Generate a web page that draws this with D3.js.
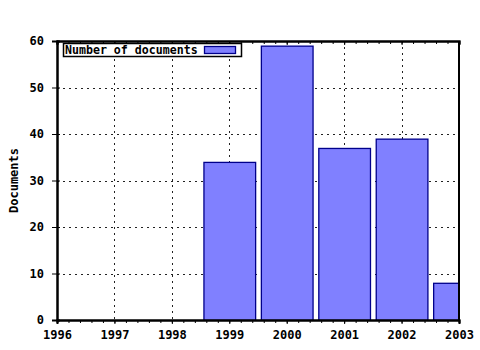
<!DOCTYPE html>
<html>
<head>
<meta charset="utf-8">
<script src="https://cdn.jsdelivr.net/npm/d3@7"></script>
<style>
  body { margin: 0; background: #fff; }
  text { font-family: "DejaVu Sans Mono", monospace; font-weight: bold; }
</style>
</head>
<body>
<script>
// data
var years = [1999, 2000, 2001, 2002, 2003];
var docs = [34, 59, 37, 39, 8];
var xTicks = [1996, 1997, 1998, 1999, 2000, 2001, 2002, 2003];
var yTicks = [0, 10, 20, 30, 40, 50, 60];
var seriesName = "Number of documents";
var yTitle = "Documents";

var w = 480, h = 350;
// plot box (don't call these top/left - window.top is read only)
var pLeft = 57, pRight = 459, pTop = 41, pBottom = 320;

var svg = d3.select("body").append("svg")
  .attr("width", w).attr("height", h);

svg.append("rect").attr("width", w).attr("height", h).style("fill", "#fff");

var x = d3.scaleLinear().domain([1996, 2003]).range([pLeft, pRight]);
var y = d3.scaleLinear().domain([0, 60]).range([pBottom, pTop]);

svg.append("clipPath").attr("id", "plot")
  .append("rect").attr("x", pLeft).attr("y", pTop)
  .attr("width", pRight - pLeft).attr("height", pBottom - pTop);

// grid - dotted
var grid = svg.append("g")
  .style("stroke", "#222").style("stroke-width", 1)
  .style("stroke-dasharray", "2,4").attr("shape-rendering", "crispEdges");
grid.selectAll(".gx").data(xTicks.slice(1, -1)).enter().append("line")
  .attr("x1", d => Math.round(x(d)) + 0.5).attr("x2", d => Math.round(x(d)) + 0.5)
  .attr("y1", pTop).attr("y2", pBottom);
grid.selectAll(".gy").data(yTicks.slice(1, -1)).enter().append("line")
  .attr("x1", pLeft).attr("x2", pRight)
  .attr("y1", d => Math.round(y(d)) + 0.5).attr("y2", d => Math.round(y(d)) + 0.5);

// bars
var bw = (x(1997) - x(1996)) * 0.9;
svg.append("g").attr("clip-path", "url(#plot)")
  .selectAll("rect").data(years).enter().append("rect")
  .attr("x", d => x(d) - bw / 2 + 0.5)
  .attr("y", (d, i) => y(docs[i]) + 0.5)
  .attr("width", bw)
  .attr("height", (d, i) => pBottom - y(docs[i]))
  .style("fill", "#8080ff")
  .style("stroke", "#00008b").style("stroke-width", 1.3);

// axes
var xAxis = d3.axisBottom(x).tickValues(xTicks).tickFormat(d3.format("d"))
  .tickSize(4).tickPadding(6);
svg.append("g").attr("transform", "translate(0," + pBottom + ")").call(xAxis);
var xTop = d3.axisTop(x).tickValues(xTicks).tickFormat("").tickSize(-4);
svg.append("g").attr("transform", "translate(0," + pTop + ")").call(xTop);

var minor = d3.range(1996, 2003.01, 0.2);
svg.append("g").attr("transform", "translate(0," + pBottom + ")")
  .call(d3.axisBottom(x).tickValues(minor).tickFormat("").tickSize(3));
svg.append("g").attr("transform", "translate(0," + pTop + ")")
  .call(d3.axisTop(x).tickValues(minor).tickFormat("").tickSize(-3));

var yAxis = d3.axisLeft(y).tickValues(yTicks).tickSize(5).tickPadding(8);
svg.append("g").attr("transform", "translate(" + pLeft + ",0)").call(yAxis);
svg.append("g").attr("transform", "translate(" + pLeft + ",0)")
  .call(d3.axisRight(y).tickValues(yTicks).tickFormat("").tickSize(3));

svg.selectAll(".domain").style("stroke", "#000").style("stroke-width", 2);
svg.selectAll(".tick line").style("stroke", "#000");
svg.selectAll(".tick text").style("font-size", "12px").style("fill", "#000")
  .style("font-family", "DejaVu Sans Mono, monospace").style("font-weight", "bold");

// right border
svg.append("line").attr("x1", pRight).attr("x2", pRight)
  .attr("y1", pTop).attr("y2", pBottom)
  .style("stroke", "#000").style("stroke-width", 2);

// y title
svg.append("text")
  .attr("transform", "translate(18," + ((pTop + pBottom) / 2) + ") rotate(-90)")
  .attr("text-anchor", "middle")
  .style("font-size", "12px")
  .text(yTitle);

// legend
var lg = svg.append("g");
lg.append("rect").attr("x", 63.5).attr("y", 43.5).attr("width", 178).attr("height", 13)
  .style("fill", "#fff").style("stroke", "#000").style("stroke-width", 1.5);
lg.append("text").attr("x", 65).attr("y", 54).style("font-size", "11.6px").text(seriesName);
lg.append("rect").attr("x", 204.5).attr("y", 46.5).attr("width", 31).attr("height", 7)
  .style("fill", "#8080ff").style("stroke", "#00008b").style("stroke-width", 1.3);
</script>
</body>
</html>
